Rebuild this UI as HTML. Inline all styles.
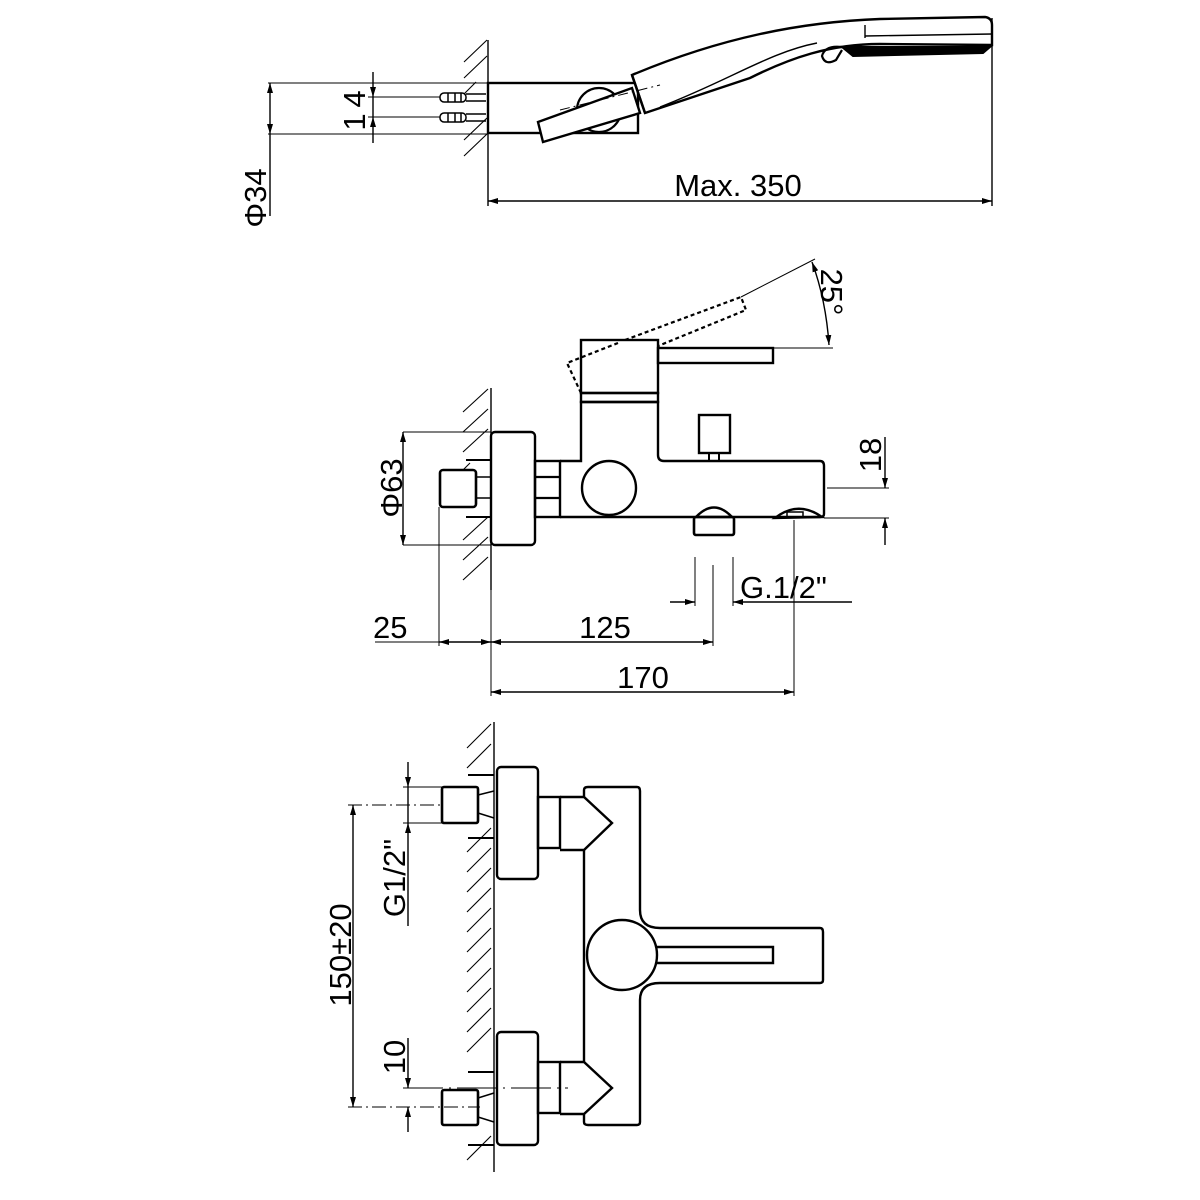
<!DOCTYPE html>
<html><head><meta charset="utf-8"><style>html,body{margin:0;padding:0;background:#fff}svg{display:block}text{font-family:"Liberation Sans",sans-serif;fill:#000}</style></head>
<body>
<svg width="1200" height="1200" viewBox="0 0 1200 1200" xmlns="http://www.w3.org/2000/svg">
<defs>
<marker id="a" viewBox="0 0 10 6" refX="10" refY="3" markerWidth="10" markerHeight="6" orient="auto-start-reverse" markerUnits="userSpaceOnUse"><path d="M0,0 L10,3 L0,6 z" fill="#000"/></marker>
</defs>
<g fill="none" stroke="#000" stroke-width="1.4">
<!-- ===== TOP VIEW ===== -->
<line x1="488" y1="40" x2="488" y2="206"/>
<g stroke-width="1.1">
<line x1="464" y1="62" x2="487" y2="40"/><line x1="464" y1="78" x2="487" y2="56"/><line x1="464" y1="94" x2="476" y2="82"/>
<line x1="464" y1="140" x2="487" y2="118"/><line x1="464" y1="156" x2="487" y2="134"/>
</g>
<rect x="488" y="83" width="150" height="50" stroke-width="2.4"/>
<circle cx="599" cy="110" r="22" stroke-width="2.2"/>
<polygon points="538,122 632,88 640,113 543,142" fill="#fff" stroke-width="2.4"/>
<path d="M632,75 C720,38 800,22 880,19 L985,17 Q992,18 992,25 L992,45 L880,44 C830,44 790,58 750,78 L645,113 Z" fill="#fff" stroke-width="2.4"/>
<path d="M660,107 C730,80 770,52 817,43" stroke-width="1.4"/>
<line x1="632" y1="75" x2="645" y2="113" stroke-width="2.4"/>
<line x1="865" y1="25" x2="865" y2="38"/>
<line x1="865" y1="36" x2="992" y2="34"/>
<path d="M842,47 L990,47 L983,53 L853,56 Z" fill="#000" stroke-width="2"/>
<path d="M842,47 Q825,45 822,56 Q825,66 836,60 L842,50" stroke-width="2.2"/>
<line x1="560" y1="110" x2="660" y2="85" stroke-dasharray="10,4,2,4" stroke-width="1"/>
<line x1="268" y1="83" x2="488" y2="83" stroke-width="1"/>
<line x1="268" y1="134" x2="488" y2="134" stroke-width="1"/>
<line x1="270" y1="83" x2="270" y2="134" marker-start="url(#a)" marker-end="url(#a)"/>
<line x1="270" y1="134" x2="270" y2="216"/>
<line x1="373" y1="72" x2="373" y2="97" marker-end="url(#a)"/>
<line x1="373" y1="117" x2="373" y2="143" marker-start="url(#a)"/>
<line x1="373" y1="97" x2="373" y2="117"/>
<line x1="368" y1="97" x2="440" y2="97" stroke-width="1"/>
<line x1="368" y1="117" x2="440" y2="117" stroke-width="1"/>
<g stroke-width="1.5">
<rect x="440" y="93" width="26" height="9" rx="4"/><line x1="448" y1="93" x2="448" y2="102"/><line x1="455" y1="93" x2="455" y2="102"/><line x1="461" y1="93" x2="461" y2="102"/>
<rect x="440" y="113" width="26" height="9" rx="4"/><line x1="448" y1="113" x2="448" y2="122"/><line x1="455" y1="113" x2="455" y2="122"/><line x1="461" y1="113" x2="461" y2="122"/>
<path d="M466,94 H486 M466,101 H486 M466,114 H486 M466,121 H486"/>
</g>
<line x1="992" y1="18" x2="992" y2="206"/>
<line x1="488" y1="201" x2="992" y2="201" marker-start="url(#a)" marker-end="url(#a)"/>

<!-- ===== SIDE VIEW ===== -->
<line x1="491" y1="388" x2="491" y2="590"/>
<g stroke-width="1.1">
<line x1="463" y1="412" x2="488" y2="389"/><line x1="463" y1="432" x2="488" y2="409"/><line x1="463" y1="452" x2="488" y2="429"/>
<line x1="463" y1="470" x2="470" y2="463"/>
<line x1="463" y1="540" x2="488" y2="517"/><line x1="463" y1="560" x2="488" y2="537"/><line x1="463" y1="580" x2="488" y2="557"/>
</g>
<line x1="466" y1="460" x2="491" y2="460" stroke-width="2"/>
<line x1="466" y1="517" x2="491" y2="517" stroke-width="2"/>
<rect x="491" y="432" width="44" height="113" rx="4" stroke-width="2.4"/>
<rect x="535" y="461" width="25" height="56" stroke-width="2.4"/>
<line x1="535" y1="477" x2="560" y2="477" stroke-width="2.2"/><line x1="535" y1="498" x2="560" y2="498" stroke-width="2.2"/>
<path d="M560,461 H581 V402 H658 V455 Q658,461 664,461 H820 Q824,461 824,466 V514 Q824,517 820,517 H560" stroke-width="2.4"/>
<rect x="581" y="340" width="77" height="53" stroke-width="2.4"/>
<rect x="581" y="393" width="77" height="9" stroke-width="2.4"/>
<rect x="658" y="348" width="115" height="15" stroke-width="2.4"/>
<circle cx="609" cy="488" r="27" stroke-width="2.4"/>
<rect x="699" y="415" width="31" height="38" stroke-width="2.4"/>
<rect x="709" y="453" width="10" height="8" stroke-width="2"/>
<path d="M696,517 Q714,498 732,517" stroke-width="2.4"/>
<rect x="694" y="517" width="40" height="18" rx="2" stroke-width="2.6"/>
<path d="M775,518 Q798,500 822,517 Z" stroke-width="2.4"/>
<rect x="787" y="512" width="16" height="5" stroke-width="1.5"/>
<rect x="440" y="470" width="36" height="37" rx="3" stroke-width="2.6"/>
<path d="M476,477 H491 M476,498 H491" stroke-width="1.6"/>
<g stroke-dasharray="4,3" stroke-width="2.2">
<polyline points="581,393 567,363 618,343"/>
<polyline points="625,340 741,297 746,310 658,346"/>
</g>
<line x1="741" y1="297" x2="815" y2="259" stroke-width="1"/>
<line x1="773" y1="348" x2="833" y2="348" stroke-width="1"/>
<path d="M812,262 Q826,300 829,345" marker-start="url(#a)" marker-end="url(#a)"/>
<line x1="403" y1="432" x2="491" y2="432" stroke-width="1"/>
<line x1="403" y1="545" x2="491" y2="545" stroke-width="1"/>
<line x1="403" y1="432" x2="403" y2="545" marker-start="url(#a)" marker-end="url(#a)"/>
<line x1="827" y1="488" x2="889" y2="488" stroke-width="1"/>
<line x1="824" y1="518" x2="889" y2="518" stroke-width="1"/>
<line x1="885" y1="437" x2="885" y2="488" marker-end="url(#a)"/>
<line x1="885" y1="518" x2="885" y2="545" marker-start="url(#a)"/>
<line x1="695" y1="557" x2="695" y2="606" stroke-width="1"/>
<line x1="713" y1="565" x2="713" y2="646" stroke-width="1"/>
<line x1="733" y1="557" x2="733" y2="606" stroke-width="1"/>
<line x1="670" y1="602" x2="695" y2="602" marker-end="url(#a)"/>
<line x1="852" y1="602" x2="733" y2="602" marker-end="url(#a)"/>
<line x1="439" y1="507" x2="439" y2="646" stroke-width="1"/>
<line x1="491" y1="590" x2="491" y2="696" stroke-width="1"/>
<line x1="794" y1="520" x2="794" y2="696" stroke-width="1"/>
<line x1="375" y1="642" x2="439" y2="642" stroke-width="1"/>
<line x1="439" y1="642" x2="491" y2="642" marker-start="url(#a)" marker-end="url(#a)"/>
<line x1="491" y1="642" x2="713" y2="642" marker-start="url(#a)" marker-end="url(#a)"/>
<line x1="491" y1="692" x2="794" y2="692" marker-start="url(#a)" marker-end="url(#a)"/>

<!-- ===== FRONT VIEW ===== -->
<line x1="494" y1="722" x2="494" y2="1172"/>
<g stroke-width="1.1">
<line x1="467" y1="748" x2="491" y2="724"/><line x1="467" y1="768" x2="491" y2="744"/>
<line x1="467" y1="852" x2="491" y2="828"/><line x1="467" y1="872" x2="491" y2="848"/><line x1="467" y1="892" x2="491" y2="868"/><line x1="467" y1="912" x2="491" y2="888"/><line x1="467" y1="932" x2="491" y2="908"/><line x1="467" y1="952" x2="491" y2="928"/><line x1="467" y1="972" x2="491" y2="948"/><line x1="467" y1="992" x2="491" y2="968"/><line x1="467" y1="1012" x2="491" y2="988"/><line x1="467" y1="1032" x2="491" y2="1008"/><line x1="467" y1="1052" x2="491" y2="1028"/>
<line x1="467" y1="1160" x2="491" y2="1136"/>
</g>
<line x1="468" y1="775" x2="494" y2="775" stroke-width="2"/><line x1="468" y1="838" x2="494" y2="838" stroke-width="2"/>
<line x1="468" y1="1072" x2="494" y2="1072" stroke-width="2"/><line x1="468" y1="1145" x2="494" y2="1145" stroke-width="2"/>
<rect x="497" y="767" width="41" height="112" rx="4" stroke-width="2.4"/>
<rect x="497" y="1032" width="41" height="113" rx="4" stroke-width="2.4"/>
<rect x="538" y="797" width="22" height="51" stroke-width="2.4"/>
<rect x="538" y="1062" width="22" height="51" stroke-width="2.4"/>
<path d="M560,797 H584 L612,823 L584,850 H560" stroke-width="2.4"/>
<path d="M560,1062 H584 L612,1088 L584,1114 H560" stroke-width="2.4"/>
<path d="M584,797 V790 Q584,787 588,787 H637 Q640,787 640,791 V910 Q640,928 660,928 H820 Q823,928 823,932 V980 Q823,983 820,983 H660 Q640,983 640,1000 V1122 Q640,1125 637,1125 H588 Q584,1125 584,1122 V1114 M584,850 V1062" stroke-width="2.4"/>
<circle cx="622" cy="955" r="35" fill="#fff" stroke-width="2.4"/>
<path d="M657,947 H773 V963 H657" stroke-width="2.4"/>
<rect x="442" y="787" width="36" height="36" rx="2" stroke-width="2.6"/>
<rect x="442" y="1090" width="36" height="35" rx="2" stroke-width="2.6"/>
<path d="M478,795 L494,791 M478,813 L494,818 M478,1098 L494,1093 M478,1117 L494,1122" stroke-width="1.5"/>
<line x1="403" y1="787" x2="442" y2="787" stroke-width="1"/>
<line x1="403" y1="823" x2="442" y2="823" stroke-width="1"/>
<line x1="348" y1="805" x2="440" y2="805" stroke-width="1" stroke-dasharray="14,4,2,4"/>
<line x1="348" y1="1107" x2="480" y2="1107" stroke-width="1" stroke-dasharray="14,4,2,4"/>
<line x1="403" y1="1088" x2="568" y2="1088" stroke-width="1" stroke-dasharray="40,6,2,6"/>
<line x1="408" y1="762" x2="408" y2="787" marker-end="url(#a)"/>
<line x1="408" y1="787" x2="408" y2="823"/>
<line x1="408" y1="823" x2="408" y2="926" marker-start="url(#a)"/>
<line x1="353" y1="805" x2="353" y2="1107" marker-start="url(#a)" marker-end="url(#a)"/>
<line x1="408" y1="1038" x2="408" y2="1088" marker-end="url(#a)"/>
<line x1="408" y1="1107" x2="408" y2="1132" marker-start="url(#a)"/>
</g>
<g font-size="31">
<text x="738" y="196" text-anchor="middle">Max. 350</text>
<text transform="translate(266,198) rotate(-90)" text-anchor="middle">Φ34</text>
<text transform="translate(365,99) rotate(-90)" text-anchor="middle">4</text>
<text transform="translate(365,122) rotate(-90)" text-anchor="middle">1</text>
<text transform="translate(402,488) rotate(-90)" text-anchor="middle">Φ63</text>
<text transform="translate(881,455) rotate(-90)" text-anchor="middle">18</text>
<text transform="translate(821,292) rotate(90)" text-anchor="middle">25°</text>
<text x="740" y="598">G.1/2"</text>
<text x="373" y="638">25</text>
<text x="605" y="638" text-anchor="middle">125</text>
<text x="643" y="688" text-anchor="middle">170</text>
<text transform="translate(405,878) rotate(-90)" text-anchor="middle">G1/2"</text>
<text transform="translate(351,955) rotate(-90)" text-anchor="middle">150±20</text>
<text transform="translate(405,1057) rotate(-90)" text-anchor="middle">10</text>
</g>
</svg>
</body></html>
